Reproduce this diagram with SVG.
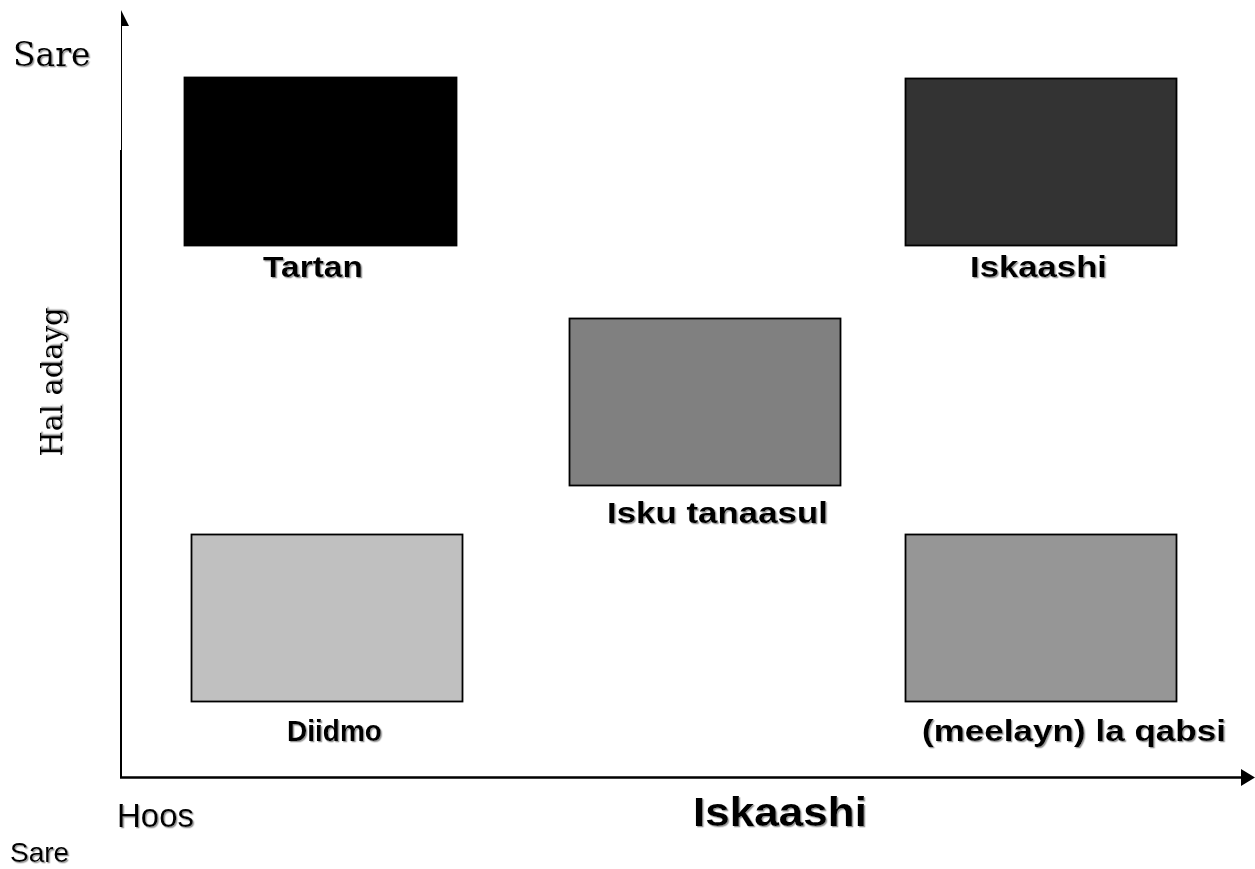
<svg xmlns="http://www.w3.org/2000/svg" width="1255" height="869" viewBox="0 0 1255 869">
  <style>
    .box { stroke: #000; stroke-width: 1.8; }
    .lbl { font-family: "Liberation Sans", Arial, sans-serif; font-weight: bold; font-size: 29px; fill: #000; filter: url(#shadow); }
    .serif { font-family: "DejaVu Serif", "Liberation Serif", serif; fill: #000; filter: url(#shadow); }
    .sans { font-family: "Liberation Sans", Arial, sans-serif; fill: #000; filter: url(#shadow); }
    .axis { stroke: #000; fill: none; }
  </style>
  <defs>
    <filter id="shadow" x="-10%" y="-10%" width="130%" height="140%">
      <feDropShadow dx="1.3" dy="1.3" stdDeviation="0.4" flood-color="#999" flood-opacity="1"/>
    </filter>
  </defs>

  <!-- axes -->
  <g id="connectors">
    <line class="axis" x1="121.5" y1="12" x2="121.5" y2="152" stroke-width="1"/>
    <line class="axis" x1="121" y1="150" x2="121" y2="778" stroke-width="2"/>
    <polygon points="121,10 129,26 121,26" fill="#000"/>
    <line class="axis" x1="120" y1="777.5" x2="1242" y2="777.5" stroke-width="2.5"/>
    <polygon points="1241,769 1255,777.5 1241,786" fill="#000"/>
  </g>

  <g id="tartan">
    <rect class="box" x="184.5" y="77.5" width="272" height="168" fill="#000"/>
    <text class="lbl" x="263" y="277" textLength="100" lengthAdjust="spacingAndGlyphs">Tartan</text>
  </g>
  <g id="iskaashi">
    <rect class="box" x="905.5" y="78.5" width="271" height="167" fill="#333333"/>
    <text class="lbl" x="970" y="277" textLength="137" lengthAdjust="spacingAndGlyphs">Iskaashi</text>
  </g>
  <g id="isku-tanaasul">
    <rect class="box" x="569.5" y="318.5" width="271" height="167" fill="#808080"/>
    <text class="lbl" x="607" y="523" textLength="221" lengthAdjust="spacingAndGlyphs">Isku tanaasul</text>
  </g>
  <g id="diidmo">
    <rect class="box" x="191.5" y="534.5" width="271" height="167" fill="#c0c0c0"/>
    <text class="lbl" x="287" y="741" textLength="95" lengthAdjust="spacingAndGlyphs">Diidmo</text>
  </g>
  <g id="meelayn">
    <rect class="box" x="905.5" y="534.5" width="271" height="167" fill="#969696"/>
    <text class="lbl" x="922" y="741" textLength="304" lengthAdjust="spacingAndGlyphs">(meelayn) la qabsi</text>
  </g>

  <g id="axis-labels">
    <text class="serif" x="13" y="66" font-size="33">Sare</text>
    <text class="serif" x="0" y="0" font-size="29" text-anchor="middle" transform="translate(62,382) rotate(-90)">Hal adayg</text>
    <text class="sans" x="117" y="827" font-size="33" textLength="77" lengthAdjust="spacingAndGlyphs">Hoos</text>
    <text class="sans" x="10" y="862" font-size="28">Sare</text>
    <text class="sans" x="693" y="826" font-size="40" font-weight="bold" textLength="174" lengthAdjust="spacingAndGlyphs">Iskaashi</text>
  </g>
</svg>
